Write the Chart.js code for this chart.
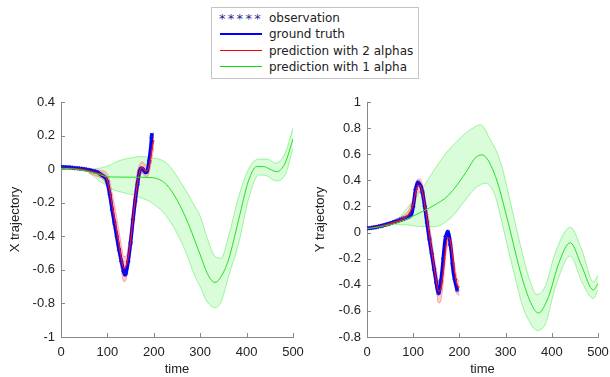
<!DOCTYPE html>
<html>
<head>
<meta charset="utf-8">
<script src="https://cdn.jsdelivr.net/npm/chart.js@4.4.1/dist/chart.umd.min.js"></script>
<style>
  body { margin: 0; background: #fff; width: 610px; height: 377px; position: relative; overflow: hidden; }
  canvas { position: absolute; top: 85px; }
  #legend {
    position: absolute; left: 211px; top: 7px; width: 206px; height: 70px;
    border: 1px solid #c4c4c4; background: #fff;
    font-family: "DejaVu Sans", sans-serif; font-size: 12px; color: #222;
  }
  .row { position: absolute; left: 0; height: 14px; line-height: 14px; }
  .sample { position: absolute; left: 8px; width: 42px; top: 6px; height: 0; }
  .label { position: absolute; left: 57px; top: 0; white-space: nowrap; }
  .stars { position: absolute; left: 7px; top: 1px; color: #2a2a90; font-size: 13px; letter-spacing: 2.3px; }
</style>
</head>
<body>
<div id="legend">
  <div class="row" style="top:3px"><span class="stars">*****</span><span class="label">observation</span></div>
  <div class="row" style="top:19px"><span class="sample" style="border-top:2px solid #0000ff"></span><span class="label">ground truth</span></div>
  <div class="row" style="top:36px"><span class="sample" style="border-top:1px solid #ff0000"></span><span class="label">prediction with 2 alphas</span></div>
  <div class="row" style="top:52px"><span class="sample" style="border-top:1px solid #00e000"></span><span class="label">prediction with 1 alpha</span></div>
</div>
<canvas id="chartX" width="305" height="292" style="left:0"></canvas>
<canvas id="chartY" width="305" height="292" style="left:305px"></canvas>
<script>
// ---- X trajectory ----
const tObs = [0,5,10,15,20,25,30,35,40,45,50,55,60,65,70,75,80,85,90,95,100,105,110,115,120,125,130,135,140,145,150,155,160,165,170,175,180,185,190,195];
const obsX = [0.012,0.012,0.011,0.01,0.01,0.008,0.006,0.005,0.004,0.002,0.0,-0.002,-0.005,-0.008,-0.012,-0.016,-0.02,-0.03,-0.04,-0.05,-0.075,-0.15,-0.24,-0.32,-0.40,-0.48,-0.55,-0.61,-0.62,-0.55,-0.44,-0.30,-0.19,-0.09,-0.01,0.003,-0.015,-0.015,0.05,0.19];

const tTruthX = [0,20,40,60,80,85,90,95,99,105,110,115,120,125,131,138,143,149,156,164,172,177,182,186,189,193,196];
const truthX = [0.012,0.01,0.004,-0.005,-0.02,-0.03,-0.04,-0.05,-0.07,-0.15,-0.24,-0.32,-0.40,-0.48,-0.56,-0.63,-0.58,-0.46,-0.28,-0.104,0.006,0.0,-0.02,-0.01,0.035,0.12,0.215];

const tRedX = [0,20,40,60,80,90,95,100,105,110,115,120,125,130,135,140,145,150,155,160,165,170,175,180,185,190,195,200];
const redX = [0.005,0.005,0.0,-0.01,-0.025,-0.035,-0.045,-0.07,-0.13,-0.21,-0.29,-0.37,-0.45,-0.53,-0.59,-0.58,-0.52,-0.43,-0.3,-0.18,-0.08,-0.01,0.01,-0.005,-0.01,0.02,0.1,0.175];
const tRedBandX = [60,80,90,95,100,105,110,115,120,125,130,135,140,145,150,155,160,165,170,175,180,185,190,195,200];
const redUpX = [0.0,-0.005,-0.01,-0.015,-0.03,-0.07,-0.14,-0.21,-0.29,-0.37,-0.45,-0.52,-0.52,-0.46,-0.36,-0.22,-0.1,-0.01,0.03,0.045,0.03,0.025,0.06,0.15,0.22];
const redLoX = [-0.025,-0.045,-0.06,-0.08,-0.11,-0.19,-0.27,-0.36,-0.44,-0.52,-0.6,-0.67,-0.66,-0.58,-0.5,-0.38,-0.26,-0.15,-0.05,-0.025,-0.04,-0.045,-0.02,0.05,0.13];

const tGreenX = [0,30,60,85,100,120,156,192,228,264,300,315,332,345,361,383,404,422,437,450,465,483,500];
const greenX = [0.005,0.0,-0.015,-0.034,-0.045,-0.047,-0.048,-0.05,-0.094,-0.26,-0.51,-0.62,-0.675,-0.64,-0.54,-0.30,-0.07,0.015,0.015,0.0,-0.015,0.036,0.18];
const tGreenBandX = [60,85,106,120,156,171,192,228,264,289,300,315,332,345,361,383,404,426,444,462,483,500];
const greenUpX = [0.0,0.006,0.025,0.045,0.07,0.075,0.07,0.035,-0.104,-0.224,-0.28,-0.41,-0.52,-0.53,-0.40,-0.164,0.0,0.06,0.06,0.036,0.095,0.245];
const greenLoX = [-0.02,-0.074,-0.114,-0.13,-0.154,-0.17,-0.194,-0.283,-0.46,-0.64,-0.70,-0.79,-0.825,-0.79,-0.64,-0.44,-0.18,-0.035,-0.04,-0.07,-0.035,0.125];

// ---- Y trajectory ----
const obsY = [0.032,0.034,0.036,0.038,0.042,0.046,0.05,0.055,0.06,0.065,0.07,0.077,0.083,0.09,0.097,0.103,0.11,0.115,0.12,0.14,0.2,0.33,0.383,0.36,0.31,0.2,0.08,-0.05,-0.16,-0.28,-0.38,-0.465,-0.37,-0.2,-0.03,0.006,-0.09,-0.24,-0.36,-0.44];

const tTruthY = [0,30,61,90,97,101,105,110,119,126,133,141,148,155,162,169,175,182,187,195];
const truthY = [0.032,0.05,0.083,0.12,0.147,0.225,0.33,0.383,0.326,0.173,-0.006,-0.186,-0.34,-0.465,-0.31,-0.058,0.006,-0.134,-0.31,-0.44];

const tRedY = [0,30,60,80,90,95,100,105,110,115,120,125,130,135,140,145,150,155,160,165,170,175,180,185,190,195,200];
const redY = [0.03,0.05,0.08,0.11,0.14,0.17,0.22,0.3,0.36,0.36,0.31,0.21,0.1,-0.02,-0.14,-0.26,-0.37,-0.45,-0.43,-0.3,-0.13,-0.04,-0.06,-0.18,-0.31,-0.4,-0.42];
const tRedBandY = [60,80,90,95,100,105,110,115,120,125,130,135,140,145,150,155,160,165,170,175,180,185,190,195,200];
const redUpY = [0.095,0.135,0.17,0.21,0.27,0.35,0.41,0.41,0.37,0.28,0.18,0.06,-0.06,-0.18,-0.29,-0.38,-0.37,-0.23,-0.06,0.01,-0.01,-0.12,-0.25,-0.35,-0.37];
const redLoY = [0.065,0.09,0.11,0.13,0.17,0.24,0.31,0.31,0.25,0.14,0.02,-0.1,-0.22,-0.34,-0.45,-0.54,-0.52,-0.38,-0.2,-0.1,-0.13,-0.26,-0.39,-0.47,-0.48];

const tGreenY = [0,30,61,90,104,141,177,213,234,249,278,306,335,357,371,393,415,440,465,490,500];
const greenY = [0.03,0.045,0.07,0.11,0.134,0.2,0.288,0.455,0.57,0.595,0.43,0.07,-0.34,-0.557,-0.616,-0.49,-0.237,-0.078,-0.26,-0.44,-0.39];
const tGreenBandY = [61,90,104,126,141,155,177,184,213,234,245,256,263,278,292,306,321,335,350,368,386,408,440,465,490,500];
const greenUpY = [0.075,0.2,0.263,0.37,0.455,0.53,0.634,0.66,0.76,0.81,0.826,0.79,0.736,0.64,0.505,0.3,0.07,-0.14,-0.34,-0.475,-0.41,-0.15,0.04,-0.134,-0.378,-0.326];
const greenLoY = [0.06,0.058,0.05,0.045,0.045,0.05,0.1,0.12,0.25,0.34,0.365,0.378,0.37,0.275,0.08,-0.134,-0.35,-0.544,-0.672,-0.75,-0.70,-0.416,-0.18,-0.378,-0.505,-0.44];

const timeTicks = [0,100,200,300,400,500];

function pts(ts, vs) {
	return ts.map((t, i) => ({ x: t, y: vs[i] }));
}

function fmt(v) {
	const r = Math.round(v * 10) / 10;
	return r === 0 ? "0" : String(r);
}

const axisFont = { family: "'Liberation Sans', Arial, sans-serif", size: 13 };

// small tick marks drawn inward, like the original plot
const innerTicks = {
	id: "innerTicks",
	afterDraw(chart) {
		const ctx = chart.ctx;
		const area = chart.chartArea;
		ctx.save();
		ctx.strokeStyle = "#888";
		ctx.lineWidth = 1;
		ctx.beginPath();
		chart.scales.x.ticks.forEach(t => {
			const px = Math.round(chart.scales.x.getPixelForValue(t.value)) + 0.5;
			ctx.moveTo(px, area.bottom);
			ctx.lineTo(px, area.bottom - 4);
		});
		chart.scales.y.ticks.forEach(t => {
			const py = Math.round(chart.scales.y.getPixelForValue(t.value)) + 0.5;
			ctx.moveTo(area.left, py);
			ctx.lineTo(area.left + 4, py);
		});
		ctx.stroke();
		ctx.restore();
	}
};

function makeChart(id, d, yMin, yMax, yTitle, axisWidth) {
	const line = { pointRadius: 0, cubicInterpolationMode: "monotone", fill: false };
	new Chart(document.getElementById(id), {
		type: "line",
		data: {
			datasets: [
				{ ...line, data: pts(d.tg, d.g), borderColor: "#22e022", borderWidth: 1 },
				{ ...line, data: pts(d.tr, d.r), borderColor: "#ff1010", borderWidth: 1.2 },
				{ data: pts(tObs, d.obs), showLine: false, pointStyle: "star", pointRadius: 2.2, borderWidth: 1, borderColor: "#1010d8", backgroundColor: "#1010d8" },
				{ ...line, data: pts(d.tt, d.t), borderColor: "#0000ff", borderWidth: 3.5 },
				{ ...line, data: pts(d.trb, d.ru), borderColor: "rgba(255,110,110,0.55)", borderWidth: 1, fill: "+1", backgroundColor: "rgba(255,90,90,0.3)" },
				{ ...line, data: pts(d.trb, d.rl), borderColor: "rgba(255,110,110,0.55)", borderWidth: 1 },
				{ ...line, data: pts(d.tgb, d.gu), borderColor: "rgba(60,230,60,0.45)", borderWidth: 1, fill: "+1", backgroundColor: "rgba(80,240,80,0.22)" },
				{ ...line, data: pts(d.tgb, d.gl), borderColor: "rgba(60,230,60,0.45)", borderWidth: 1 }
			]
		},
		options: {
			responsive: false,
			animation: false,
			layout: { padding: { top: 17, right: 12, left: 0, bottom: 0 } },
			plugins: { legend: { display: false }, tooltip: { enabled: false } },
			scales: {
				x: {
					type: "linear", min: 0, max: 500,
					afterBuildTicks: s => { s.ticks = timeTicks.map(v => ({ value: v })); },
					afterFit: s => { s.height = 40; s.paddingLeft = 0; s.paddingRight = 0; },
					grid: { display: false, drawTicks: false },
					border: { color: "#888" },
					ticks: { color: "#222", font: axisFont, padding: 8, maxRotation: 0 },
					title: { display: true, text: "time", color: "#222", font: axisFont, padding: { top: 0, bottom: 0 } }
				},
				y: {
					min: yMin, max: yMax,
					ticks: { stepSize: 0.2, color: "#222", font: axisFont, padding: 6, callback: v => fmt(v) },
					afterFit: s => { s.width = axisWidth; s.paddingTop = 0; s.paddingBottom = 0; },
					grid: { display: false, drawTicks: false },
					border: { color: "#888" },
					title: { display: true, text: yTitle, color: "#222", font: axisFont, padding: { top: 8, bottom: 0 } }
				}
			}
		},
		plugins: [innerTicks]
	});
}

makeChart("chartX", {
	obs: obsX, tt: tTruthX, t: truthX, tr: tRedX, r: redX, trb: tRedBandX, ru: redUpX, rl: redLoX,
	tg: tGreenX, g: greenX, tgb: tGreenBandX, gu: greenUpX, gl: greenLoX
}, -1, 0.4, "X trajectory", 61);

makeChart("chartY", {
	obs: obsY, tt: tTruthY, t: truthY, tr: tRedY, r: redY, trb: tRedBandY, ru: redUpY, rl: redLoY,
	tg: tGreenY, g: greenY, tgb: tGreenBandY, gu: greenUpY, gl: greenLoY
}, -0.8, 1, "Y trajectory", 62);
</script>
</body>
</html>
